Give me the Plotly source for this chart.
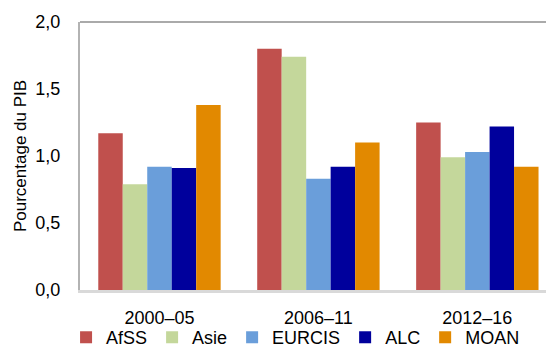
import plotly.graph_objects as go

periods = ["2000–05", "2006–11", "2012–16"]
series = ["AfSS", "Asie", "EURCIS", "ALC", "MOAN"]
values = {
    "AfSS":   [1.17, 1.80, 1.25],
    "Asie":   [0.79, 1.74, 0.99],
    "EURCIS": [0.92, 0.83, 1.03],
    "ALC":    [0.91, 0.92, 1.22],
    "MOAN":   [1.38, 1.10, 0.92],
}
colors = {
    "AfSS": "#C0504D",
    "Asie": "#C4D79B",
    "EURCIS": "#6A9EDA",
    "ALC": "#00009C",
    "MOAN": "#E28900",
}
y_ticks = [0, 0.5, 1.0, 1.5, 2.0]

FONT = "Liberation Sans, Arial, sans-serif"

fig = go.Figure()
for s in series:
    fig.add_trace(go.Bar(
        name=s, x=periods, y=values[s],
        marker=dict(color=colors[s], line=dict(width=0)),
    ))

fig.update_layout(
    width=546, height=348,
    margin=dict(l=80, r=0, t=22, b=58, autoexpand=False),
    paper_bgcolor="white", plot_bgcolor="white",
    barmode="group", bargap=0.23, bargroupgap=0,
    separators=", ",
    font=dict(family=FONT, size=18, color="black"),
    showlegend=True,
    legend=dict(
        orientation="h", xref="container", yref="container",
        x=0.121, xanchor="left", y=0.03, yanchor="middle",
        font=dict(size=18), itemwidth=30, tracegroupgap=0,
        bgcolor="rgba(0,0,0,0)",
    ),
    xaxis=dict(
        type="category", range=[-0.5, 2.432], automargin=False,
        showline=True, linecolor="#d9d9d9", linewidth=3,
        ticks="", showgrid=False, zeroline=False,
        tickfont=dict(size=18), ticklabelstandoff=9,
    ),
    yaxis=dict(
        range=[0, 2], tickvals=y_ticks, tickformat=".1f", automargin=False,
        showline=True, linecolor="#b3b3b3", linewidth=2,
        ticks="", showgrid=False, zeroline=False,
        tickfont=dict(size=18), ticklabelstandoff=14,
        title=dict(text="Pourcentage du PIB", font=dict(size=17), standoff=4),
    ),
    shapes=[dict(type="line", xref="paper", yref="paper", x0=0, x1=1, y0=1, y1=1,
                 line=dict(color="#aaaaaa", width=2))],
)

fig.write_html(
    "out.html",
    config={"displayModeBar": False},
    post_script="document.body.style.margin='0';document.body.style.overflow='hidden';",
)
